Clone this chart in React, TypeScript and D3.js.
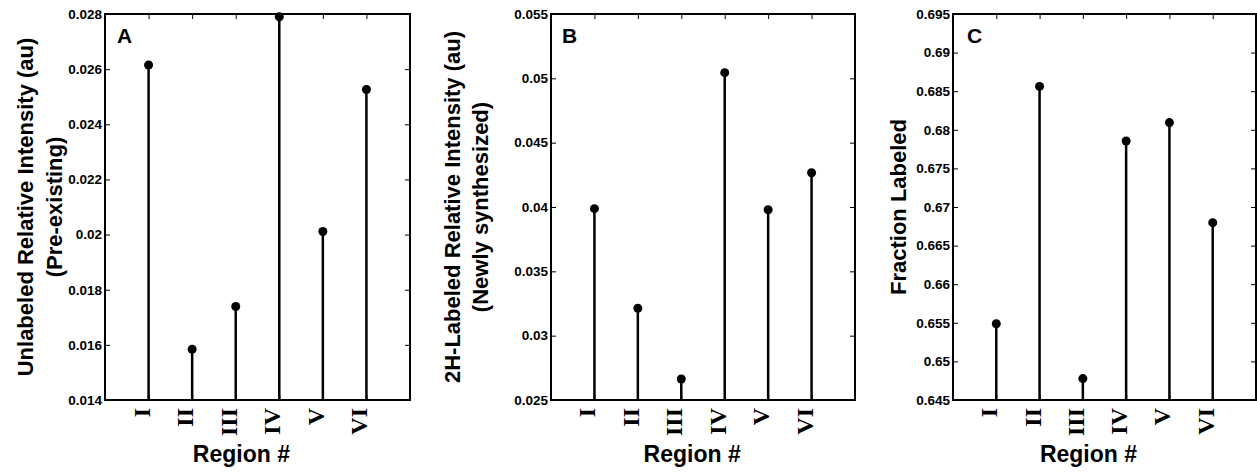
import React, { useEffect, useRef } from 'react';
import * as d3 from 'd3';

// region names on the x axis
const regions = ['I', 'II', 'III', 'IV', 'V', 'VI'];

// panel A: unlabeled relative intensity (pre-existing)
const unlabeledValues = [0.02615, 0.01584, 0.01739, 0.0279, 0.02011, 0.02526];
const unlabeledTicks = [0.014, 0.016, 0.018, 0.02, 0.022, 0.024, 0.026, 0.028];

// panel B: 2H-labeled relative intensity (newly synthesized)
const labeledValues = [0.03987, 0.03213, 0.02663, 0.05044, 0.03979, 0.04266];
const labeledTicks = [0.025, 0.03, 0.035, 0.04, 0.045, 0.05, 0.055];

// panel C: fraction labeled
const fractionValues = [0.65488, 0.68562, 0.64777, 0.67855, 0.68093, 0.66797];
const fractionTicks = [0.645, 0.65, 0.655, 0.66, 0.665, 0.67, 0.675, 0.68, 0.685, 0.69, 0.695];

const width = 1257;
const height = 472;
const top = 14;
const bottom = 400;

const sans = 'Liberation Sans, Arial, Helvetica, sans-serif';
const serif = 'Liberation Serif, Times New Roman, serif';

const fmt = (v: number) => String(parseFloat(v.toFixed(4)));

const panels = [
    {
        letter: 'A', values: unlabeledValues, ticks: unlabeledTicks,
        left: 105, right: 410, letterDx: 12,
        titles: ['Unlabeled Relative Intensity (au)', '(Pre-existing)'], titleX: [33, 62],
        regionAt: 3.13
    },
    {
        letter: 'B', values: labeledValues, ticks: labeledTicks,
        left: 551, right: 855, letterDx: 11,
        titles: ['2H-Labeled Relative Intensity (au)', '(Newly synthesized)'], titleX: [460, 488],
        regionAt: 3.25
    },
    {
        letter: 'C', values: fractionValues, ticks: fractionTicks,
        left: 953, right: 1256, letterDx: 14,
        titles: ['Fraction Labeled'], titleX: [906],
        regionAt: 3.13
    }
];

export default function App() {
    const svgRef = useRef<SVGSVGElement>(null);

    useEffect(() => {
        document.body.style.margin = '0';
        const svg = d3.select(svgRef.current)
            .attr('width', width)
            .attr('height', height);
        svg.selectAll('*').remove();

        svg.append('rect')
            .attr('width', width)
            .attr('height', height)
            .attr('fill', '#fff');

        panels.forEach(p => {
            const x = d3.scaleLinear().domain([0, 7]).range([p.left, p.right]);
            const y = d3.scaleLinear()
                .domain([p.ticks[0], p.ticks[p.ticks.length - 1]])
                .range([bottom, top]);
            const xs = regions.map((_, i) => i + 1);

            const g = svg.append('g');

            // left axis with labels, ticks pointing inward
            const yAxisG = g.append('g')
                .attr('transform', `translate(${p.left},0)`)
                .call(d3.axisLeft(y).tickValues(p.ticks).tickFormat(d => fmt(+d))
                    .tickSizeInner(-5).tickSizeOuter(0).tickPadding(3));
            yAxisG.select('.domain').remove();
            yAxisG.selectAll('text')
                .attr('font-family', sans)
                .attr('font-weight', 'bold')
                .attr('font-size', 13.5)
                .attr('fill', '#000');

            // right axis: ticks only
            const rightG = g.append('g')
                .attr('transform', `translate(${p.right},0)`)
                .call(d3.axisRight(y).tickValues(p.ticks).tickFormat(() => '')
                    .tickSizeInner(-5).tickSizeOuter(0));
            rightG.select('.domain').remove();

            // top axis: ticks only
            const topG = g.append('g')
                .attr('transform', `translate(0,${top})`)
                .call(d3.axisTop(x).tickValues(xs).tickFormat(() => '')
                    .tickSizeInner(-5).tickSizeOuter(0));
            topG.select('.domain').remove();

            // bottom axis: ticks, and roman labels rotated
            const botG = g.append('g')
                .attr('transform', `translate(0,${bottom})`)
                .call(d3.axisBottom(x).tickValues(xs).tickFormat(() => '')
                    .tickSizeInner(-5).tickSizeOuter(0));
            botG.select('.domain').remove();

            g.selectAll('.xlab')
                .data(regions)
                .enter()
                .append('text')
                .attr('transform', (d, i) => `translate(${x(i + 1) + 1},${bottom + 8}) rotate(-90)`)
                .attr('text-anchor', 'end')
                .attr('font-family', serif)
                .attr('font-weight', 'bold')
                .attr('font-size', 24)
                .text(d => d);

            // frame
            g.append('rect')
                .attr('x', p.left)
                .attr('y', top)
                .attr('width', p.right - p.left)
                .attr('height', bottom - top)
                .attr('fill', 'none')
                .attr('stroke', '#000')
                .attr('stroke-width', 2);

            // stems
            g.selectAll('.stem')
                .data(p.values)
                .enter()
                .append('line')
                .attr('x1', (d, i) => x(i + 1))
                .attr('x2', (d, i) => x(i + 1))
                .attr('y1', y(p.ticks[0]))
                .attr('y2', d => y(d))
                .attr('stroke', '#000')
                .attr('stroke-width', 2.5);

            g.selectAll('.dot')
                .data(p.values)
                .enter()
                .append('circle')
                .attr('cx', (d, i) => x(i + 1))
                .attr('cy', d => y(d))
                .attr('r', 4.5)
                .attr('fill', '#000');

            // panel letter
            g.append('text')
                .attr('x', p.left + p.letterDx)
                .attr('y', 43)
                .attr('font-family', sans)
                .attr('font-weight', 'bold')
                .attr('font-size', 21)
                .text(p.letter);

            // y titles
            p.titles.forEach((t, k) => {
                g.append('text')
                    .attr('transform', `translate(${p.titleX[k]},${(top + bottom) / 2}) rotate(-90)`)
                    .attr('text-anchor', 'middle')
                    .attr('font-family', sans)
                    .attr('font-weight', 'bold')
                    .attr('font-size', 22)
                    .text(t);
            });

            // x title
            g.append('text')
                .attr('x', x(p.regionAt))
                .attr('y', 462)
                .attr('text-anchor', 'middle')
                .attr('font-family', sans)
                .attr('font-weight', 'bold')
                .attr('font-size', 23)
                .text('Region #');
        });
    }, []);

    return (
        <svg ref={svgRef} style={{ display: 'block' }}></svg>
    );
}
